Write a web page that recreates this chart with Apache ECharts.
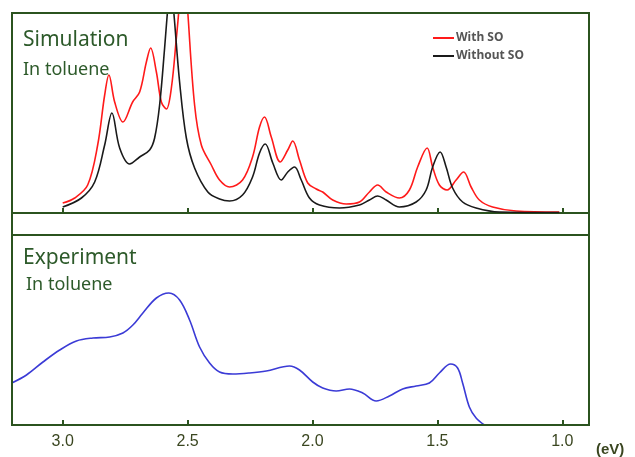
<!DOCTYPE html>
<html>
<head>
<meta charset="utf-8">
<script src="https://cdn.jsdelivr.net/npm/echarts@6/dist/echarts.min.js"></script>
<style>
html,body{margin:0;padding:0;background:#fff;}
#main{width:635px;height:457px;}
</style>
</head>
<body>
<div id="main"></div>
<script>
// simulated spectrum, with spin-orbit coupling (eV, arb. units)
var withSoEnergy = [3.00,2.952,2.900,2.860,2.832,2.815,2.792,2.759,2.720,2.692,2.665,2.648,2.625,2.605,2.585,2.565,2.545,2.536,2.518,2.499,2.472,2.445,2.405,2.372,2.332,2.280,2.240,2.212,2.192,2.165,2.129,2.099,2.079,2.052,2.019,1.985,1.959,1.919,1.865,1.812,1.772,1.739,1.705,1.652,1.612,1.579,1.541,1.519,1.492,1.461,1.425,1.395,1.365,1.332,1.279,1.185,1.012];
var withSoValue  = [10,15,28,68,118,138,111,91,111,121,151,165,141,111,104,125,175,200,270,200,108,68,48,33,26,33,56,86,96,76,51,63,72,53,30,24,21,13,9,11,21,28,21,15,23,46,65,46,28,23,33,41,26,13,6,2,1];

// simulated spectrum, without spin-orbit coupling
var noSoEnergy = [3.00,2.925,2.872,2.832,2.803,2.772,2.732,2.692,2.652,2.632,2.612,2.592,2.581,2.568,2.555,2.532,2.505,2.472,2.419,2.372,2.332,2.280,2.240,2.212,2.189,2.159,2.125,2.099,2.072,2.045,2.012,1.972,1.892,1.812,1.772,1.739,1.705,1.652,1.585,1.545,1.519,1.489,1.465,1.439,1.399,1.345,1.252,1.012];
var noSoValue  = [6,15,31,68,100,65,49,56,63,75,108,165,200,235,200,131,75,45,21,14,12,18,36,60,69,50,33,41,46,33,15,8,5,8,13,17,13,6,11,23,46,61,46,25,11,5,1,0.5];

// measured absorption in toluene
var expEnergy = [3.204,3.145,3.079,3.012,2.945,2.879,2.812,2.759,2.719,2.679,2.625,2.575,2.532,2.492,2.452,2.412,2.372,2.319,2.252,2.185,2.092,2.052,1.999,1.959,1.905,1.852,1.799,1.745,1.692,1.639,1.585,1.532,1.492,1.447,1.419,1.399,1.372,1.345,1.312];
var expValue  = [42,50,63,75,84,87,88,92,100,112,127,132,125,105,78,62,53,51,52,54,59,55,43,37,34,36,32,24,29,36,39,42,52,61,57,42,18,7,0];

var tickValues = [1.0, 1.5, 2.0, 2.5, 3.0];
var legendNames = ['With SO', 'Without SO'];

function pairs(xs, ys) {
    return xs.map(function (x, i) { return [x, ys[i]]; });
}

var frameColor = '#2b531f';
var textGreen = '#2d5a2a';
var font = 'Noto Sans';

var myEcharts = echarts.init(document.getElementById('main'));

function xAxisFor(idx, showLabels) {
    return {
        type: 'value',
        gridIndex: idx,
        inverse: true,
        min: 0.893,
        max: 3.203,
        splitLine: { show: false },
        axisLine: { show: true, lineStyle: { color: frameColor, width: 2 } },
        axisTick: {
            show: true, inside: true, length: 5,
            customValues: tickValues,
            lineStyle: { color: frameColor, width: 2 }
        },
        axisLabel: {
            show: showLabels,
            customValues: tickValues,
            margin: 9,
            fontSize: 16,
            fontFamily: 'Liberation Sans',
            color: '#3a4620',
            formatter: function (v) { return v.toFixed(1); }
        }
    };
}

function curve(name, xs, ys, grid, color) {
    return {
        name: name, type: 'line', xAxisIndex: grid, yAxisIndex: grid,
        data: pairs(xs, ys),
        smooth: 0.35, symbol: 'none', showSymbol: false, clip: true,
        lineStyle: { color: color, width: 1.6 }, itemStyle: { color: color }
    };
}

var option = {
    animation: false,
    grid: [
        { left: 12, right: 46, top: 13, height: 200, show: true, borderColor: frameColor, borderWidth: 2 },
        { left: 12, right: 46, top: 235, height: 190, show: true, borderColor: frameColor, borderWidth: 2 }
    ],
    xAxis: [xAxisFor(0, false), xAxisFor(1, true)],
    yAxis: [
        { type: 'value', gridIndex: 0, min: 0, max: 200, show: false },
        { type: 'value', gridIndex: 1, min: 0, max: 190, show: false }
    ],
    legend: {
        data: legendNames,
        orient: 'vertical',
        left: 428,
        top: 27,
        icon: 'rect',
        itemWidth: 21,
        itemHeight: 2,
        itemGap: 6,
        textStyle: { fontSize: 12, color: '#555', fontFamily: font, fontWeight: 'bold', padding: [0, 0, 0, -3] }
    },
    graphic: [
        { type: 'rect', shape: { x: 12, y: 13, width: 577, height: 412 },
          style: { fill: 'none', stroke: frameColor, lineWidth: 2 }, z: 100 },
        { type: 'text', x: 23, y: 40, style: { text: 'Simulation', font: '21px "Noto Sans"', fill: textGreen, verticalAlign: 'middle' } },
        { type: 'text', x: 23, y: 70, style: { text: 'In toluene', font: '18px "Noto Sans"', fill: textGreen, verticalAlign: 'middle' } },
        { type: 'text', x: 23, y: 258, style: { text: 'Experiment', font: '21px "Noto Sans"', fill: textGreen, verticalAlign: 'middle' } },
        { type: 'text', x: 26, y: 285, style: { text: 'In toluene', font: '18px "Noto Sans"', fill: textGreen, verticalAlign: 'middle' } },
        { type: 'text', x: 596, y: 450, style: { text: '(eV)', font: 'bold 15px "Liberation Sans"', fill: '#3a4620', verticalAlign: 'middle' } }
    ],
    series: [
        curve('With SO', withSoEnergy, withSoValue, 0, '#ff1a1a'),
        curve('Without SO', noSoEnergy, noSoValue, 0, '#1a1a1a'),
        curve('Experiment', expEnergy, expValue, 1, '#3b3bd6')
    ]
};

myEcharts.setOption(option);
</script>
</body>
</html>
